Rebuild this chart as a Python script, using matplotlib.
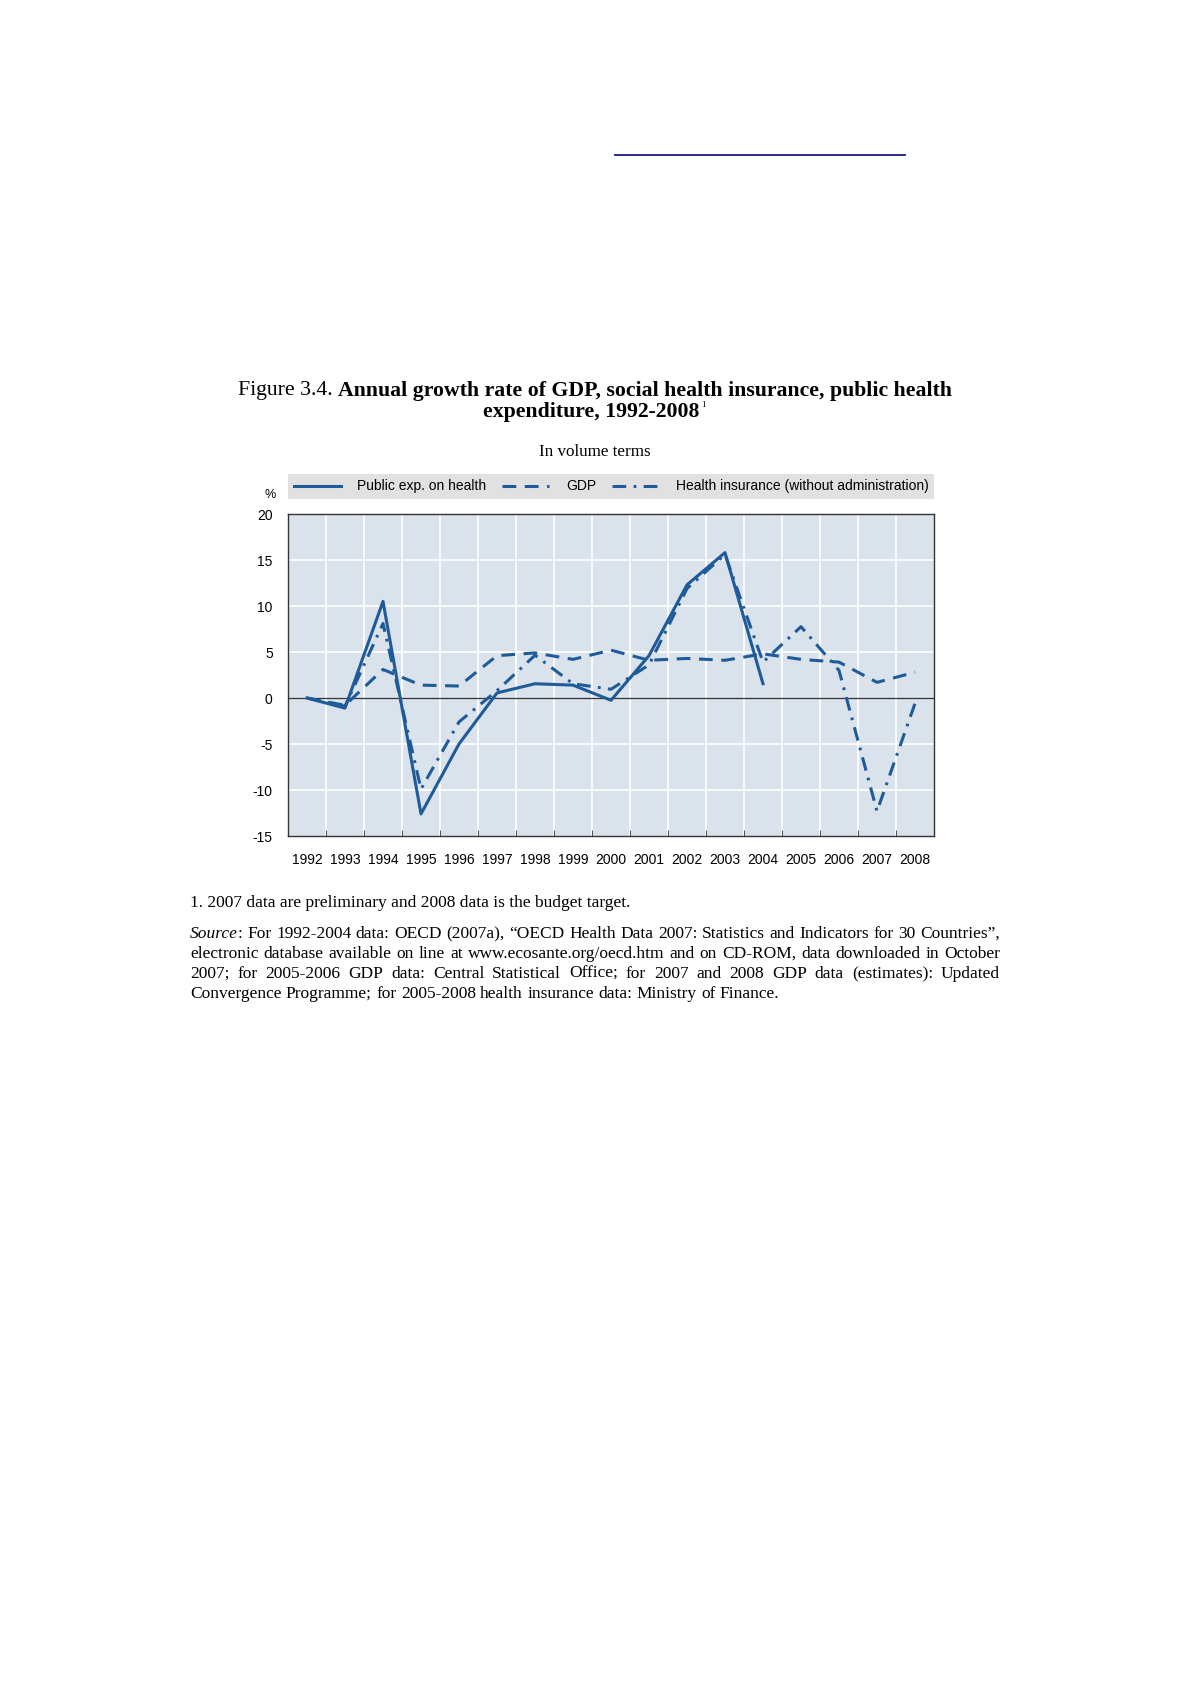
import matplotlib
matplotlib.use("Agg")
import matplotlib.pyplot as plt
from matplotlib.lines import Line2D
from matplotlib.font_manager import FontProperties, findfont
import numpy as np

years = list(range(1992, 2009))
public_exp = [0.0, -1.1, 10.5, -12.6, -5.0, 0.55, 1.55, 1.4, -0.25, 4.6, 12.3, 15.8, 1.55]
gdp = [0.0, -0.8, 3.1, 1.4, 1.3, 4.6, 4.9, 4.2, 5.2, 4.1, 4.3, 4.1, 4.8, 4.2, 3.9, 1.7, 2.8]
health_ins = [0.0, -0.9, 8.1, -9.9, -2.6, 0.8, 4.65, 1.55, 0.95, 3.6, 11.9, 15.6, 3.9, 7.75, 3.0, -12.3, -0.6]
yticks = [-15, -10, -5, 0, 5, 10, 15, 20]
series_names = ["Public exp. on health", "GDP", "Health insurance (without administration)"]

W, H = 1190, 1684
fig = plt.figure(figsize=(W / 100, H / 100), dpi=100)
fig.patch.set_facecolor("white")

narrow = "Liberation Sans Narrow"
try:
    findfont(FontProperties(family=narrow), fallback_to_default=False)
except Exception:
    narrow = "Liberation Sans"
serif = "Liberation Serif"

LINE = "#1f5b98"
BG = "#dae2ec"

def fx(px):
    return px / W

def fy(py):
    return 1 - py / H

ax = fig.add_axes([fx(288), fy(836), fx(934) - fx(288), fy(514) - fy(836)])
ax.set_facecolor(BG)
x = np.array(years)
ax.plot(x[:len(public_exp)], public_exp, color=LINE, lw=2.2, ls="-", label=series_names[0])
ax.plot(x, gdp, color=LINE, lw=2.2, ls=(0, (4.5, 2.8)), label=series_names[1])
ax.plot(x, health_ins, color=LINE, lw=2.2, ls=(0, (4.5, 2.4, 0.9, 2.4)), label=series_names[2])
ax.axhline(0, color="#333333", lw=0.9, zorder=1)
ax.set_xlim(1991.5, 2008.5)
ax.set_ylim(-15, 20)
ax.set_yticks(yticks)
ax.set_yticklabels([str(v) for v in yticks], fontfamily=narrow, fontsize=10)
ax.set_xticks(years)
ax.set_xticklabels([str(y) for y in years], fontfamily=narrow, fontsize=10)
ax.set_xticks(np.arange(1992.5, 2008.5, 1), minor=True)
ax.tick_params(axis="x", which="major", length=0, pad=12)
ax.tick_params(axis="x", which="minor", length=4, direction="in", color="#333333")
ax.tick_params(axis="y", length=0, pad=11)
ax.grid(False)
for v in np.arange(1992.5, 2008.5, 1):
    ax.axvline(v, color="white", lw=1.2, zorder=0.5)
for v in yticks[1:-1]:
    if v != 0:
        ax.axhline(v, color="white", lw=1.2, zorder=0.5)
for s in ax.spines.values():
    s.set_color("#333333")
    s.set_linewidth(1.0)

leg = fig.legend(*ax.get_legend_handles_labels(), loc="lower left",
                 bbox_to_anchor=(fx(288), fy(499), fx(934) - fx(288), fy(473) - fy(499)),
                 mode="expand", ncol=3, frameon=True, fancybox=False, borderaxespad=0,
                 prop={"family": narrow, "size": 10}, handlelength=3.4, columnspacing=1.0,
                 borderpad=0.4, handletextpad=1.2)
leg.get_frame().set_facecolor("#e1e1e1")
leg.get_frame().set_edgecolor("none")
leg.get_frame().set_alpha(1)

fig.text(fx(270), fy(495), "%", fontfamily=narrow, fontsize=9, ha="center", va="center")

fig.add_artist(Line2D([fx(615), fx(905)], [fy(155), fy(155)], transform=fig.transFigure,
                      color="#1a1a80", lw=1.3))

fig.canvas.draw()
renderer = fig.canvas.get_renderer()

def width_px(t):
    return t.get_window_extent(renderer=renderer).width

def fit_size(s, target, **kw):
    t = fig.text(0, 0, s, fontsize=10, **kw)
    w = width_px(t)
    t.remove()
    return 10 * target / w

title_a = "Figure 3.4. "
title_b = "Annual growth rate of GDP, social health insurance, public health"
tsize = fit_size(title_a + title_b, 718, fontfamily=serif, fontweight="bold")
t1a = fig.text(0, fy(391), title_a, fontfamily=serif, fontsize=tsize, va="center")
t1b = fig.text(0, fy(391), title_b, fontfamily=serif, fontsize=tsize, fontweight="bold", va="center")
wa, wb = width_px(t1a), width_px(t1b)
x0 = (W - (wa + wb)) / 2
t1a.set_x(fx(x0))
t1b.set_x(fx(x0 + wa))

t2 = fig.text(0, fy(412), "expenditure, 1992-2008", fontfamily=serif, fontsize=tsize,
              fontweight="bold", va="center")
w2 = width_px(t2)
x2 = (W - w2) / 2 - 4
t2.set_x(fx(x2))
fig.text(fx(x2 + w2 + 2), fy(405), "1", fontfamily=serif, fontsize=6.5, va="center")

vsize = fit_size("In volume terms", 111, fontfamily=serif)
fig.text(fx(595), fy(452), "In volume terms", fontfamily=serif, fontsize=vsize, ha="center", va="center")

fn = "1. 2007 data are preliminary and 2008 data is the budget target."
fs = fit_size(fn, 440, fontfamily=serif)
fig.text(fx(190), fy(903), fn, fontfamily=serif, fontsize=fs, va="center")

src_lines = [
    [("Source", "italic"), (": For 1992-2004 data: OECD (2007a), \u201cOECD Health Data 2007: Statistics and Indicators for 30 Countries\u201d,", "normal")],
    [("electronic database available on line at www.ecosante.org/oecd.htm and on CD-ROM, data downloaded in October", "normal")],
    [("2007; for 2005-2006 GDP data: Central Statistical Office; for 2007 and 2008 GDP data (estimates): Updated", "normal")],
    [("Convergence Programme; for 2005-2008 health insurance data: Ministry of Finance.", "normal")],
]
ys = [934, 954, 974, 994]
left, right = 190, 1000
space_t = fig.text(0, 0, "a b", fontfamily=serif, fontsize=fs)
a_t = fig.text(0, 0, "ab", fontfamily=serif, fontsize=fs)
sp = width_px(space_t) - width_px(a_t)
space_t.remove(); a_t.remove()
for i, (line, yy) in enumerate(zip(src_lines, ys)):
    tokens = []
    for txt, style in line:
        parts = txt.split(" ")
        for j, p in enumerate(parts):
            if p == "":
                continue
            if j == 0 and tokens and not txt.startswith(" "):
                tokens[-1].append((p, style))
            else:
                tokens.append([(p, style)])
    texts, widths = [], []
    for tok in tokens:
        group, wsum = [], 0
        for p, style in tok:
            t = fig.text(0, fy(yy), p, fontfamily=serif, fontsize=fs, fontstyle=style, va="center")
            group.append((t, wsum))
            wsum += width_px(t)
        texts.append(group)
        widths.append(wsum)
    total = sum(widths)
    last = i == len(src_lines) - 1
    if last or len(tokens) < 2:
        gap = sp
    else:
        gap = (right - left - total) / (len(tokens) - 1)
    xpos = left
    for group, w in zip(texts, widths):
        for t, off in group:
            t.set_x(fx(xpos + off))
        xpos += w + gap

fig.savefig("out.png", dpi=100, facecolor="white")
